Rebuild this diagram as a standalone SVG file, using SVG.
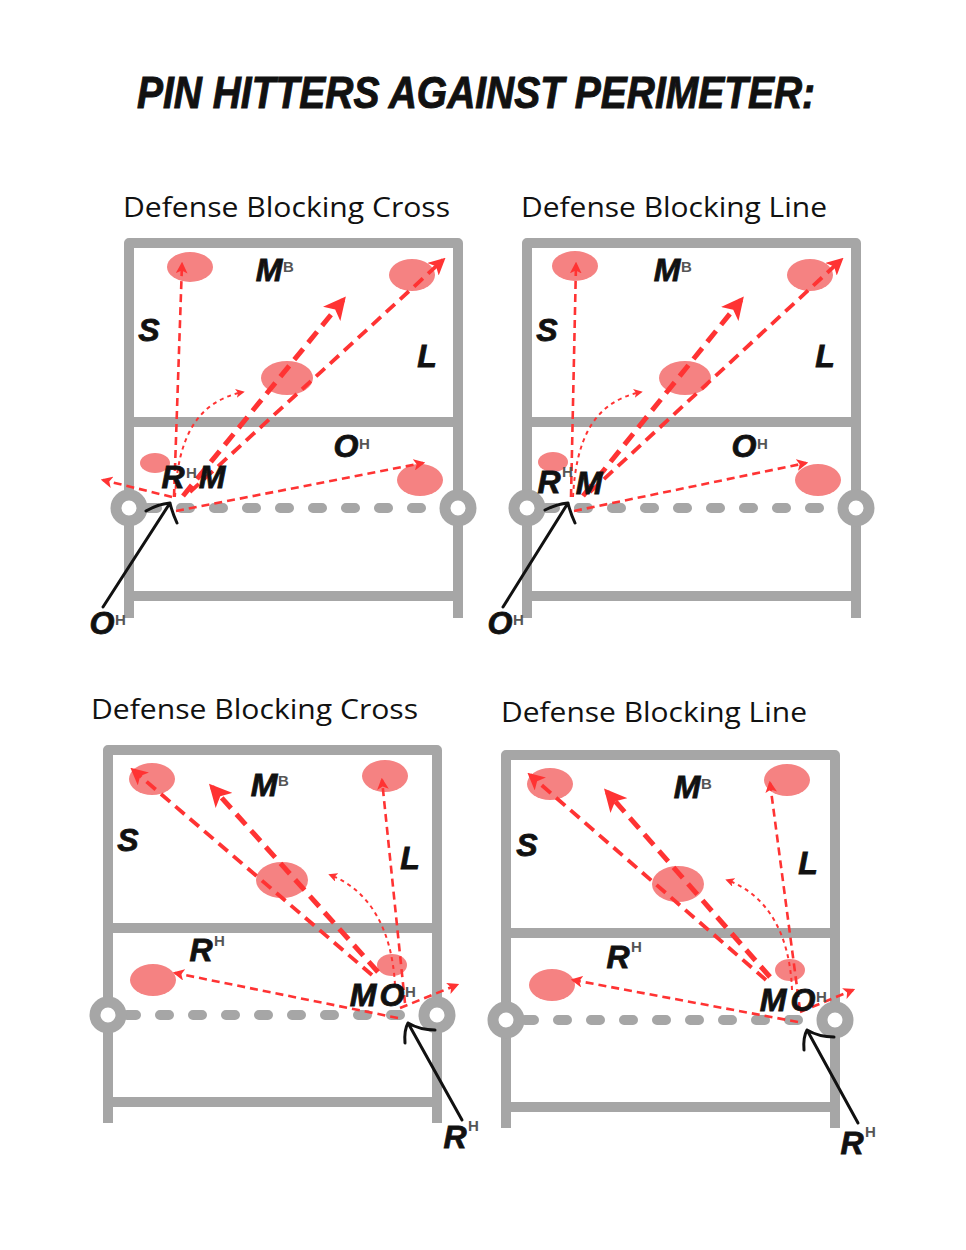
<svg xmlns="http://www.w3.org/2000/svg" width="966" height="1250" viewBox="0 0 966 1250">
<style>
.bg{fill:#ffffff}
.court{fill:none;stroke:#a6a6a6;stroke-width:10;stroke-linecap:butt;stroke-linejoin:round}
.net{fill:none;stroke:#a6a6a6;stroke-width:10;stroke-linecap:round;stroke-dasharray:9 24}
.ring{fill:#ffffff;stroke:#a6a6a6;stroke-width:11}
.spot{fill:#f58282}
.thin{fill:none;stroke:#ff3333;stroke-width:2.6;stroke-dasharray:8 5}
.med{fill:none;stroke:#ff3333;stroke-width:3.8;stroke-dasharray:12 7}
.thick{fill:none;stroke:#ff3333;stroke-width:5;stroke-dasharray:14 8}
.dot{fill:none;stroke:#ff3333;stroke-width:2;stroke-dasharray:4 4}
.blk{fill:none;stroke:#111111;stroke-width:3;stroke-linecap:round;stroke-linejoin:round}
.title{font-family:"Liberation Sans",Arial,sans-serif;font-weight:bold;font-style:italic;font-size:45px;fill:#111111;stroke:#111111;stroke-width:1}
.sub{font-family:"Open Sans","Liberation Sans",sans-serif;font-size:27px;fill:#111111}
.p{font-family:"Liberation Sans",Arial,sans-serif;font-weight:bold;font-style:italic;font-size:32px;fill:#111111;stroke:#111111;stroke-width:0.8;text-anchor:middle}
.sup{font-family:"Liberation Sans",Arial,sans-serif;font-weight:bold;font-size:15px;fill:#555555}
</style>
<defs>
<marker id="ah" viewBox="0 0 10 10" refX="8" refY="5" markerUnits="strokeWidth" markerWidth="4.5" markerHeight="4.5" orient="auto">
<path d="M0,0 L10,5 L0,10 L2.5,5 z" fill="#ff3333"/>
</marker>
</defs>
<rect class="bg" x="0" y="0" width="966" height="1250"/>
<text class="title" x="137" y="108" textLength="678" lengthAdjust="spacingAndGlyphs">PIN HITTERS AGAINST PERIMETER:</text>
<text class="sub" x="123" y="217" textLength="327" lengthAdjust="spacingAndGlyphs">Defense Blocking Cross</text>
<text class="sub" x="521" y="217" textLength="306" lengthAdjust="spacingAndGlyphs">Defense Blocking Line</text>
<text class="sub" x="91" y="719" textLength="327" lengthAdjust="spacingAndGlyphs">Defense Blocking Cross</text>
<text class="sub" x="501" y="722" textLength="306" lengthAdjust="spacingAndGlyphs">Defense Blocking Line</text>

<g id="court-tl">
<path class="court" d="M129,618 V243 H458 V618 M129,422 H458 M129,596 H458"/>
<path class="net" d="M148,508 H450"/>
<circle class="ring" cx="129" cy="508" r="13"/>
<circle class="ring" cx="458" cy="508" r="13"/>
<ellipse class="spot" cx="190" cy="267" rx="23" ry="15"/>
<ellipse class="spot" cx="412" cy="275" rx="23" ry="16"/>
<ellipse class="spot" cx="287" cy="378" rx="26" ry="17"/>
<ellipse class="spot" cx="155" cy="463" rx="15" ry="10"/>
<ellipse class="spot" cx="420" cy="480" rx="23" ry="16"/>
</g>
<g id="court-tr">
<path class="court" d="M527,618 V243 H856 V618 M527,422 H856 M527,596 H856"/>
<path class="net" d="M546,508 H848"/>
<circle class="ring" cx="527" cy="508" r="13"/>
<circle class="ring" cx="856" cy="508" r="13"/>
<ellipse class="spot" cx="575" cy="266" rx="23" ry="15"/>
<ellipse class="spot" cx="810" cy="275" rx="23" ry="16"/>
<ellipse class="spot" cx="685" cy="378" rx="26" ry="17"/>
<ellipse class="spot" cx="553" cy="462" rx="15" ry="10"/>
<ellipse class="spot" cx="818" cy="480" rx="23" ry="16"/>
</g>
<g id="court-bl">
<path class="court" d="M108,1123 V750 H437 V1123 M108,928 H437 M108,1102 H437"/>
<path class="net" d="M127,1015 H429"/>
<circle class="ring" cx="108" cy="1015" r="13"/>
<circle class="ring" cx="437" cy="1015" r="13"/>
<ellipse class="spot" cx="152" cy="779" rx="23" ry="16"/>
<ellipse class="spot" cx="385" cy="776" rx="23" ry="16"/>
<ellipse class="spot" cx="282" cy="880" rx="26" ry="18"/>
<ellipse class="spot" cx="153" cy="980" rx="23" ry="16"/>
<ellipse class="spot" cx="392" cy="965" rx="15" ry="11"/>
</g>
<g id="court-br">
<path class="court" d="M506,1128 V755 H835 V1128 M506,933 H835 M506,1107 H835"/>
<path class="net" d="M525,1020 H827"/>
<circle class="ring" cx="506" cy="1020" r="13"/>
<circle class="ring" cx="835" cy="1020" r="13"/>
<ellipse class="spot" cx="550" cy="784" rx="23" ry="16"/>
<ellipse class="spot" cx="787" cy="780" rx="23" ry="16"/>
<ellipse class="spot" cx="678" cy="884" rx="26" ry="18"/>
<ellipse class="spot" cx="552" cy="985" rx="23" ry="16"/>
<ellipse class="spot" cx="790" cy="970" rx="15" ry="11"/>
</g>

<g id="connectors">
<path class="thin" d="M174,497 L182,264" marker-end="url(#ah)"/>
<path class="thick" d="M183,496 L343,300" marker-end="url(#ah)"/>
<path class="med" d="M190,492 L443,260" marker-end="url(#ah)"/>
<path class="thin" d="M172,497 L103,480" marker-end="url(#ah)"/>
<path class="thin" d="M176,511 L423,463" marker-end="url(#ah)"/>
<path class="dot" d="M175,497 C178,440 195,402 243,392" marker-end="url(#ah)"/>
<path class="blk" d="M103,607 L170,503 M146,511 Q158,504 170,503 Q172,512 177,523"/>
<path class="thin" d="M571,497 L576,264" marker-end="url(#ah)"/>
<path class="thick" d="M583,496 L741,300" marker-end="url(#ah)"/>
<path class="med" d="M590,492 L841,260" marker-end="url(#ah)"/>
<path class="thin" d="M574,511 L806,463" marker-end="url(#ah)"/>
<path class="dot" d="M573,497 C576,440 593,402 641,392" marker-end="url(#ah)"/>
<path class="blk" d="M503,607 L568,503 M545,510 Q557,504 568,503 Q570,512 575,523"/>
<path class="med" d="M372,975 L133,770" marker-end="url(#ah)"/>
<path class="thick" d="M378,972 L212,787" marker-end="url(#ah)"/>
<path class="thin" d="M405,1003 L382,780" marker-end="url(#ah)"/>
<path class="dot" d="M395,985 C392,930 370,890 330,875" marker-end="url(#ah)"/>
<path class="thin" d="M398,1018 L175,973" marker-end="url(#ah)"/>
<path class="thin" d="M400,1008 L457,985" marker-end="url(#ah)"/>
<path class="blk" d="M462,1120 L408,1023 M405,1043 Q404,1030 408,1023 Q420,1030 435,1030"/>
<path class="med" d="M766,980 L530,775" marker-end="url(#ah)"/>
<path class="thick" d="M770,977 L607,792" marker-end="url(#ah)"/>
<path class="thin" d="M800,1010 L770,783" marker-end="url(#ah)"/>
<path class="dot" d="M792,990 C790,935 768,895 727,880" marker-end="url(#ah)"/>
<path class="thin" d="M798,1022 L573,980" marker-end="url(#ah)"/>
<path class="thin" d="M800,1012 L853,990" marker-end="url(#ah)"/>
<path class="blk" d="M858,1123 L807,1030 M804,1050 Q803,1037 807,1030 Q819,1037 834,1037"/>
</g>

<g id="tl-mb"><text class="p" x="269" y="281">M</text><text class="sup" x="283" y="272">B</text></g>
<g id="tl-s"><text class="p" x="149" y="341">S</text></g>
<g id="tl-l"><text class="p" x="427" y="367">L</text></g>
<g id="tl-oh"><text class="p" x="346" y="457">O</text><text class="sup" x="359" y="449">H</text></g>
<g id="tl-rhm"><text class="p" x="173" y="488">R</text><text class="sup" x="186" y="478">H</text><text class="p" x="212" y="488">M</text></g>
<g id="tl-oh2"><text class="p" x="102" y="634">O</text><text class="sup" x="115" y="625">H</text></g>
<g id="tr-mb"><text class="p" x="667" y="281">M</text><text class="sup" x="681" y="272">B</text></g>
<g id="tr-s"><text class="p" x="547" y="341">S</text></g>
<g id="tr-l"><text class="p" x="825" y="367">L</text></g>
<g id="tr-oh"><text class="p" x="744" y="457">O</text><text class="sup" x="757" y="449">H</text></g>
<g id="tr-rhm"><text class="p" x="549" y="493">R</text><text class="sup" x="562" y="477">H</text><text class="p" x="589" y="494">M</text></g>
<g id="tr-oh2"><text class="p" x="500" y="634">O</text><text class="sup" x="513" y="625">H</text></g>
<g id="bl-mb"><text class="p" x="264" y="796">M</text><text class="sup" x="278" y="786">B</text></g>
<g id="bl-s"><text class="p" x="128" y="851">S</text></g>
<g id="bl-l"><text class="p" x="410" y="869">L</text></g>
<g id="bl-rh"><text class="p" x="201" y="961">R</text><text class="sup" x="214" y="946">H</text></g>
<g id="bl-moh"><text class="p" x="363" y="1006">M</text><text class="p" x="392" y="1006">O</text><text class="sup" x="405" y="997">H</text></g>
<g id="bl-rh2"><text class="p" x="455" y="1148">R</text><text class="sup" x="468" y="1131">H</text></g>
<g id="br-mb"><text class="p" x="687" y="798">M</text><text class="sup" x="701" y="789">B</text></g>
<g id="br-s"><text class="p" x="527" y="856">S</text></g>
<g id="br-l"><text class="p" x="808" y="874">L</text></g>
<g id="br-rh"><text class="p" x="618" y="968">R</text><text class="sup" x="631" y="952">H</text></g>
<g id="br-moh"><text class="p" x="773" y="1011">M</text><text class="p" x="803" y="1011">O</text><text class="sup" x="816" y="1002">H</text></g>
<g id="br-rh2"><text class="p" x="852" y="1154">R</text><text class="sup" x="865" y="1137">H</text></g>
</svg>
